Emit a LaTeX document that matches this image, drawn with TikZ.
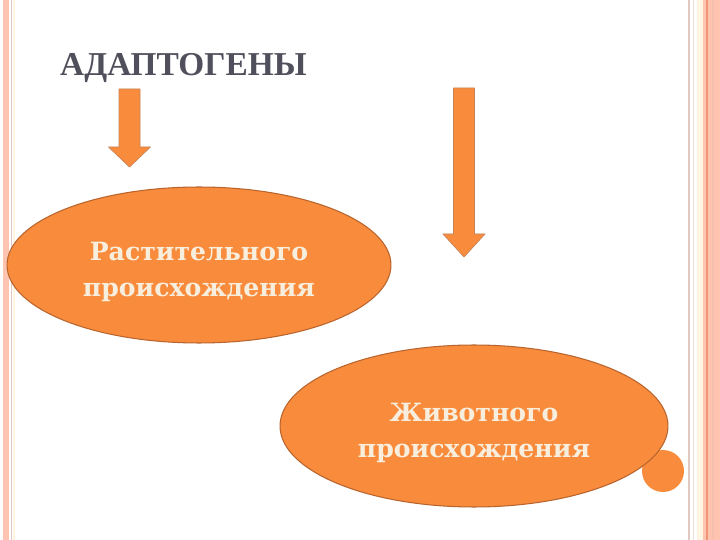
\documentclass[tikz,border=0pt]{standalone}
\usepackage{fontspec}
\setmainfont{Liberation Serif}
\newfontfamily\ovalfont{DejaVu Serif}
\usetikzlibrary{shapes.geometric}
\definecolor{salmon}{RGB}{255,196,176}
\definecolor{salmondark}{RGB}{240,150,120}
\definecolor{rimgray}{RGB}{225,200,195}
\definecolor{rimcream}{RGB}{255,245,225}
\definecolor{titlegray}{RGB}{80,80,92}
\definecolor{orangefill}{RGB}{249,140,60}
\definecolor{orangeedge}{RGB}{185,100,45}
\definecolor{textcream}{RGB}{248,238,222}
\tikzset{
  oval/.style={ellipse,fill=orangefill,draw=orangeedge,line width=0.6pt,
    align=center,text=textcream,inner sep=0pt,text height=39pt,text depth=3pt,
    font=\ovalfont\bfseries\fontsize{14.3}{20.5}\selectfont},
  blockarrow/.style={fill=orangefill,draw=orangeedge!80,line width=0.4pt}
}
\begin{document}
\begin{tikzpicture}[line cap=round,line join=round,x=0.02cm,y=-0.02cm]
\useasboundingbox[fill=white] (0,0) rectangle (720,540);
% side rims
\fill[salmon] (3,0) rectangle (9,540);
\draw[rimgray,line width=0.5pt] (11,0)--(11,540);
\draw[rimcream,line width=0.8pt] (14,0)--(14,540);
\draw[rimgray,line width=0.6pt] (689,0)--(689,540);
\draw[rimgray!60,line width=0.5pt] (693,0)--(693,540);
\fill[rimcream] (697,0) rectangle (703,540);
\fill[salmon] (703,0) rectangle (720,540);
\draw[salmondark,line width=1pt] (707,0)--(707,540);
\draw[salmondark!60,line width=0.6pt] (713,0)--(713,540);
% title
\node[anchor=base west,text=titlegray,font=\bfseries\fontsize{19}{22}\selectfont] (title) at (54,76) {АДАПТОГЕНЫ};
% block arrows
\foreach \m/\t/\s/\e in {129.5/89/147/167,464/88/234/257}
\draw[blockarrow] (\m-10.5,\t)--(\m-10.5,\s)--(\m-21,\s)--(\m,\e)
  --(\m+21,\s)--(\m+10.5,\s)--(\m+10.5,\t)--cycle;
% ovals
\node[circle,fill=orangefill,minimum size=0.84cm] (dot) at (663,471) {};
\node[oval,minimum width=7.68cm,minimum height=3.12cm] (plant) at (199,265)
  {Растительного\\происхождения};
\node[oval,minimum width=7.76cm,minimum height=3.24cm] (animal) at (474,426)
  {Животного\\происхождения};
\end{tikzpicture}
\end{document}
